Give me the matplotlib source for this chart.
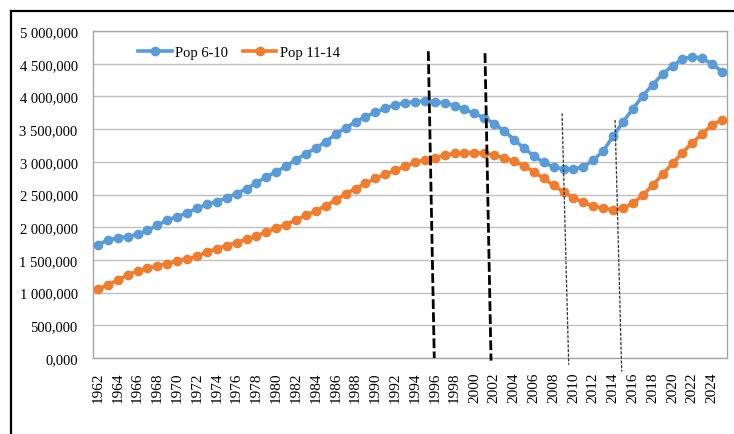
import matplotlib
matplotlib.use("Agg")
import matplotlib.pyplot as plt
from matplotlib.lines import Line2D

plt.rcParams['font.family'] = ['Liberation Serif', 'DejaVu Serif']

years = list(range(1962, 2026))

pop_6_10 = [
    1.735, 1.80, 1.84, 1.857, 1.89, 1.95, 2.03, 2.11, 2.16, 2.22,
    2.29, 2.35, 2.39, 2.45, 2.515, 2.59, 2.68, 2.77, 2.85, 2.93,
    3.035, 3.125, 3.21, 3.31, 3.42, 3.52, 3.61, 3.69, 3.755, 3.82,
    3.87, 3.90, 3.92, 3.93, 3.92, 3.90, 3.86, 3.80, 3.74, 3.67,
    3.585, 3.47, 3.34, 3.21, 3.09, 2.99, 2.92, 2.89, 2.885, 2.925,
    3.025, 3.165, 3.39, 3.61, 3.81, 4.01, 4.18, 4.34, 4.47, 4.57,
    4.61, 4.58, 4.495, 4.38,
]
pop_11_14 = [
    1.05, 1.12, 1.19, 1.27, 1.33, 1.37, 1.41, 1.44, 1.485, 1.51,
    1.555, 1.62, 1.67, 1.72, 1.765, 1.82, 1.865, 1.93, 1.985, 2.04,
    2.11, 2.18, 2.25, 2.33, 2.41, 2.51, 2.59, 2.67, 2.745, 2.81,
    2.87, 2.93, 2.99, 3.03, 3.06, 3.10, 3.13, 3.14, 3.14, 3.13,
    3.10, 3.06, 3.01, 2.94, 2.85, 2.745, 2.64, 2.54, 2.45, 2.38,
    2.32, 2.29, 2.265, 2.29, 2.365, 2.49, 2.64, 2.81, 2.975, 3.14,
    3.29, 3.43, 3.565, 3.645,
]
pop_6_10 = [v * 1e6 for v in pop_6_10]
pop_11_14 = [v * 1e6 for v in pop_11_14]

y_ticks = [0, 500000, 1000000, 1500000, 2000000, 2500000, 3000000,
           3500000, 4000000, 4500000, 5000000]
y_tick_labels = ['0,000', '500,000', '1 000,000', '1 500,000', '2 000,000',
                 '2 500,000', '3 000,000', '3 500,000', '4 000,000',
                 '4 500,000', '5 000,000']
series_labels = ['Pop 6-10', 'Pop 11-14']

# hand-drawn annotation lines: (x_top, y_top, x_bottom, y_bottom) in category index / value units
thick_marks = [(33.35, 4.69e6, 33.95, 0.0), (39.07, 4.66e6, 39.68, -0.04e6)]
thin_marks = [(46.85, 3.742e6, 47.52, -0.102e6), (52.2, 3.639e6, 52.87, -0.209e6)]

blue = '#5B9BD5'
orange = '#ED7D31'

fig = plt.figure(figsize=(7.34, 4.35), dpi=100)
ax = fig.add_axes([93/734, (435-359)/435, (727-93)/734, (359-32)/435])

x = list(range(len(years)))
ax.plot(x, pop_6_10, color=blue, lw=2.6, marker='o', ms=6.0, label=series_labels[0], zorder=3)
ax.plot(x, pop_11_14, color=orange, lw=2.6, marker='o', ms=6.0, label=series_labels[1], zorder=3)

for (x0, y0, x1, y1) in thick_marks:
    ax.plot([x0, x1], [y0, y1], color='black', lw=2.0, ls=(0, (3.5, 1.2)), clip_on=False, zorder=4)
for (x0, y0, x1, y1) in thin_marks:
    ax.plot([x0, x1], [y0, y1], color='#333333', lw=0.9, ls=(0, (2.5, 1.2)), clip_on=False, zorder=4)

ax.set_xlim(-0.5, len(years) - 0.5)
ax.set_ylim(0, 5e6)
ax.set_yticks(y_ticks)
ax.set_yticklabels(y_tick_labels, fontsize=10.5)
ax.set_xticks(x[::2])
ax.set_xticklabels([str(y) for y in years[::2]], rotation=90, fontsize=11)
ax.tick_params(axis='both', length=0, colors='black')
ax.tick_params(axis='y', pad=11)
ax.tick_params(axis='x', pad=10)

ax.grid(axis='y', color='#C0C0C0', lw=1.0)
ax.set_axisbelow(True)
for s in ax.spines.values():
    s.set_color('#A6A6A6')
    s.set_linewidth(1.0)

leg = ax.legend(ncol=2, frameon=False, loc='center left',
                bbox_to_anchor=((138-93)/634, (359-53)/327),
                borderpad=0, borderaxespad=0, handlelength=2.3,
                handletextpad=0.25, columnspacing=1.0, fontsize=10.5)

# outer frame
fig.add_artist(Line2D([11/734, 11/734], [0, 1 - 12/435], color='black', lw=1.6, transform=fig.transFigure))
fig.add_artist(Line2D([11/734, 1], [1 - 12/435, 1 - 12/435], color='black', lw=1.6, transform=fig.transFigure))

fig.savefig('out.png', dpi=100)
